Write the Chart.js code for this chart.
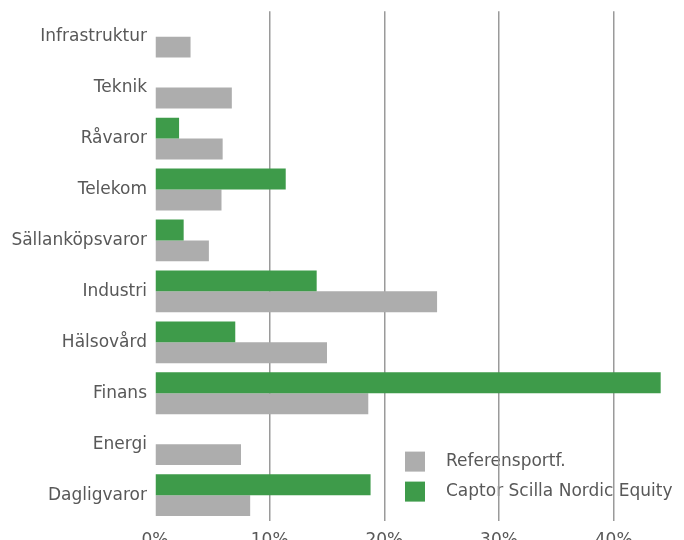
<!DOCTYPE html>
<html>
<head>
<meta charset="utf-8">
<script src="https://cdn.jsdelivr.net/npm/chart.js@4"></script>
<style>
	html, body { margin: 0; padding: 0; background: #fff; overflow: hidden; }
	#wrap { position: relative; width: 684px; height: 568px; margin-top: -7px; }
</style>
</head>
<body>
<div id="wrap"><canvas id="sectorChart"></canvas></div>
<script>
const sectors = ['Infrastruktur', 'Teknik', 'Råvaror', 'Telekom', 'Sällanköpsvaror',
	'Industri', 'Hälsovård', 'Finans', 'Energi', 'Dagligvaror'];
const fundValues = [0, 0, 2.1, 11.4, 2.5, 14.1, 7.0, 44.1, 0, 18.8];
const refValues = [3.1, 6.7, 5.9, 5.8, 4.7, 24.6, 15.0, 18.6, 7.5, 8.3];
const xTicks = [0, 10, 20, 30, 40];

const fundLabel = 'Captor Scilla Nordic Equity';
const refLabel = 'Referensportf.';
const fontFamily = '"DejaVu Sans", sans-serif';

// legend inside the plot, bottom right. drawn in beforeDraw so the grid lies over it like in the original
const innerLegend = {
	id: 'innerLegend',
	beforeDraw(chart) {
		const ctx = chart.ctx;
		const items = [
			{ text: refLabel, color: '#adadad' },
			{ text: fundLabel, color: '#3e9b4a' }
		];
		const top = chart.chartArea.bottom - 69;
		ctx.save();
		ctx.font = '17px ' + fontFamily;
		ctx.textBaseline = 'middle';
		items.forEach((it, i) => {
			const y = top + i * 30;
			ctx.fillStyle = it.color;
			ctx.fillRect(405, y, 20, 20);
			ctx.fillStyle = '#585858';
			ctx.fillText(it.text, 446, y + 10);
		});
		ctx.restore();
	}
};

new Chart(document.getElementById('sectorChart'), {
	type: 'bar',
	data: {
		labels: sectors,
		datasets: [
			{
				label: fundLabel,
				data: fundValues,
				backgroundColor: '#3e9b4a',
				categoryPercentage: 0.82,
				barPercentage: 1
			},
			{
				label: refLabel,
				data: refValues,
				backgroundColor: '#adadad',
				categoryPercentage: 0.82,
				barPercentage: 1
			}
		]
	},
	options: {
		indexAxis: 'y',
		responsive: true,
		maintainAspectRatio: false,
		animation: false,
		layout: { padding: { top: 0, right: 13, left: 0, bottom: 0 } },
		plugins: {
			legend: { display: false },
			tooltip: { enabled: false }
		},
		scales: {
			x: {
				min: 0,
				max: 45,
				afterBuildTicks: (scale) => {
					scale.ticks = xTicks.map(v => ({ value: v }));
				},
				border: { display: false },
				grid: {
					drawTicks: false,
					lineWidth: 1.5,
					color: (c) => c.tick && c.tick.value === 0 ? 'rgba(0,0,0,0)' : '#9a9a9a'
				},
				ticks: {
					padding: 10,
					color: '#585858',
					font: { family: fontFamily, size: 17 },
					callback: (v) => v + '%'
				}
			},
			y: {
				afterFit: (scale) => { scale.width = 155; },
				border: { display: false },
				grid: { display: false, drawTicks: false },
				ticks: {
					padding: 8,
					color: '#585858',
					font: { family: fontFamily, size: 17 }
				}
			}
		}
	},
	plugins: [innerLegend]
});
</script>
</body>
</html>
